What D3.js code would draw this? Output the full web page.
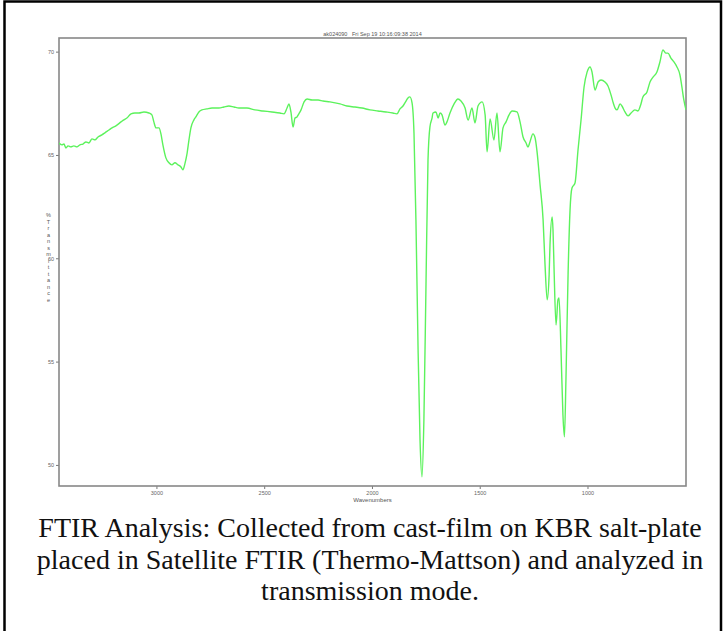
<!DOCTYPE html>
<html>
<head>
<meta charset="utf-8">
<script src="https://cdn.jsdelivr.net/npm/d3@7"></script>
<style>
  html, body { margin: 0; padding: 0; background: #fff; }
  svg { display: block; }
</style>
</head>
<body>
<div id="chart"></div>
<script>
/* FTIR spectrum — % Transmittance vs wavenumber */
const TITLE = 'ak024090   Fri Sep 19 10:16:09:38 2014';
const X_LABEL = 'Wavenumbers';
const Y_LABEL = '%Transmittance';
const CAPTION = [
  'FTIR Analysis: Collected from cast-film on KBR salt-plate',
  'placed in Satellite FTIR (Thermo-Mattson) and analyzed in',
  'transmission mode.'
];

const xTicks = [3000, 2500, 2000, 1500, 1000];
const yTicks = [50, 55, 60, 65, 70];

// wavenumber (cm-1)
const waveNumbers = [
  3452, 3438, 3429, 3420, 3410, 3397, 3383, 3369, 3355, 3341, 3327, 3313, 3299, 3285, 3271,
  3253, 3239, 3220, 3206, 3188, 3164, 3151, 3137, 3118, 3100, 3081, 3058, 3035, 3021, 3012,
  3002, 2988, 2979, 2970, 2956, 2942, 2928, 2914, 2900, 2886, 2877, 2868, 2859, 2849, 2840,
  2826, 2817, 2803, 2789, 2766, 2742, 2710, 2687, 2664, 2640, 2617, 2580, 2543, 2506, 2464,
  2427, 2408, 2394, 2385, 2376, 2366, 2357, 2348, 2339, 2329, 2315, 2301, 2278, 2250, 2227,
  2195, 2148, 2116, 2079, 2046, 2009, 1972, 1935, 1903, 1884, 1870, 1856, 1842, 1833, 1824,
  1814, 1805, 1796, 1786, 1777, 1768, 1759, 1749, 1740, 1731, 1721, 1717, 1703, 1693, 1684,
  1675, 1661, 1652, 1638, 1619, 1601, 1587, 1568, 1554, 1536, 1522, 1508, 1489, 1475, 1466,
  1452, 1434, 1420, 1406, 1392, 1378, 1364, 1350, 1327, 1313, 1299, 1285, 1276, 1267, 1253,
  1243, 1234, 1220, 1206, 1197, 1187, 1178, 1174, 1164, 1160, 1155, 1146, 1137, 1132, 1123,
  1114, 1107, 1100, 1090, 1081, 1072, 1058, 1044, 1030, 1016, 1002, 988, 979, 965, 951,
  937, 919, 905, 891, 882, 872, 863, 849, 840, 826, 812, 798, 780, 766, 752,
  743, 724, 710, 696, 678, 664, 650, 636, 627, 613, 599, 585, 571, 562, 553, 543
];

// % transmittance at each wavenumber
const transmittance = [
  65.58, 65.49, 65.53, 65.34, 65.44, 65.39, 65.44, 65.39, 65.49, 65.53, 65.63, 65.58, 65.78, 65.73, 65.87,
  65.97, 66.07, 66.21, 66.31, 66.41, 66.60, 66.70, 66.79, 66.99, 67.03, 67.03, 67.08, 67.03, 66.94, 66.60,
  66.31, 66.31, 66.02, 65.49, 64.86, 64.62, 64.52, 64.62, 64.52, 64.42, 64.28, 64.57, 65.00, 65.73, 66.31,
  66.70, 66.84, 67.08, 67.18, 67.23, 67.27, 67.27, 67.32, 67.37, 67.32, 67.27, 67.27, 67.18, 67.13, 67.08,
  67.03, 66.99, 67.27, 67.47, 67.08, 66.35, 66.79, 66.84, 66.99, 67.18, 67.57, 67.71, 67.66, 67.66, 67.61,
  67.57, 67.47, 67.37, 67.32, 67.27, 67.18, 67.13, 67.08, 67.03, 66.99, 67.23, 67.37, 67.61, 67.76, 67.81,
  67.52, 66.06, 61.85, 55.57, 51.21, 49.42, 52.18, 58.95, 64.76, 66.36, 66.79, 67.03, 67.08, 66.79, 67.03,
  66.94, 66.45, 66.60, 67.03, 67.47, 67.71, 67.61, 67.27, 66.69, 67.27, 66.55, 67.37, 67.57, 66.94, 65.15,
  66.74, 65.72, 67.03, 65.15, 66.31, 66.60, 66.94, 67.13, 67.08, 66.60, 65.87, 65.58, 65.38, 65.63, 66.02,
  65.82, 65.15, 63.55, 61.86, 59.68, 57.99, 59.20, 60.65, 62.00, 61.37, 59.43, 56.77, 57.99, 58.08, 55.57,
  52.43, 51.36, 54.12, 59.29, 62.33, 63.40, 63.64, 65.24, 66.69, 68.29, 69.01, 69.26, 69.01, 68.14, 68.53,
  68.63, 68.53, 68.34, 67.91, 67.57, 67.27, 67.18, 67.47, 67.37, 67.08, 66.89, 67.03, 67.18, 67.13, 67.47,
  67.81, 68.05, 68.53, 68.77, 69.01, 69.50, 70.08, 69.93, 69.93, 69.69, 69.50, 69.26, 68.87, 68.29, 67.66, 67.18
];

const W = 727, H = 631;
const frame = { left: 59, right: 686, top: 38, bottom: 486 };

const svg = d3.select('#chart').append('svg')
  .attr('width', W).attr('height', H)
  .style('font-family', 'Arial, "Liberation Sans", sans-serif');

// outer black border of the figure box
svg.append('rect')
  .attr('x', 4.5).attr('y', 1.5).attr('width', 716.5).attr('height', H + 20)
  .attr('fill', 'none').attr('stroke', '#000').attr('stroke-width', 2.5);

const x = d3.scaleLinear().domain([3452, 543]).range([frame.left, frame.right]);
const y = d3.scaleLinear().domain([48.98, 70.66]).range([frame.bottom, frame.top]);

const axisColor = '#777';

// x axis
const gx = svg.append('g')
  .attr('transform', `translate(0,${frame.bottom})`)
  .call(d3.axisBottom(x).tickValues(xTicks).tickSize(3).tickPadding(2).tickFormat(d3.format('d')));
gx.select('.domain').remove();
gx.selectAll('line').attr('stroke', axisColor);
gx.selectAll('text').attr('fill', '#666').attr('font-size', '5.5px');

// y axis
const gy = svg.append('g')
  .attr('transform', `translate(${frame.left},0)`)
  .call(d3.axisLeft(y).tickValues(yTicks).tickSize(3).tickPadding(2).tickFormat(d3.format('d')));
gy.select('.domain').remove();
gy.selectAll('line').attr('stroke', axisColor);
gy.selectAll('text').attr('fill', '#666').attr('font-size', '5.5px');

// plot frame
svg.append('rect')
  .attr('x', frame.left).attr('y', frame.top)
  .attr('width', frame.right - frame.left).attr('height', frame.bottom - frame.top)
  .attr('fill', 'none').attr('stroke', '#888').attr('stroke-width', 1.6);

// spectrum
const pts = waveNumbers.map((w, i) => [w, transmittance[i]]);
const line = d3.line().x(d => x(d[0])).y(d => y(d[1])).curve(d3.curveMonotoneX);

svg.append('defs').append('clipPath').attr('id', 'clip')
  .append('rect')
  .attr('x', frame.left).attr('y', frame.top)
  .attr('width', frame.right - frame.left).attr('height', frame.bottom - frame.top);

svg.append('path')
  .datum(pts)
  .attr('clip-path', 'url(#clip)')
  .attr('fill', 'none')
  .attr('stroke', '#5cf25c')
  .attr('stroke-width', 1.4)
  .attr('stroke-linejoin', 'round')
  .attr('d', line);

// title
svg.append('text')
  .attr('x', (frame.left + frame.right) / 2).attr('y', 35.5)
  .attr('text-anchor', 'middle')
  .attr('font-size', '5.5px').attr('fill', '#555')
  .attr('xml:space', 'preserve')
  .text(TITLE);

// x label
svg.append('text')
  .attr('x', (frame.left + frame.right) / 2).attr('y', 502)
  .attr('text-anchor', 'middle')
  .attr('font-size', '6px').attr('fill', '#555')
  .text(X_LABEL);

// y label, letters stacked
const yl = svg.append('text')
  .attr('text-anchor', 'middle')
  .attr('font-size', '5.5px').attr('fill', '#555');
Y_LABEL.split('').forEach((ch, i) => {
  yl.append('tspan')
    .attr('x', 48.5)
    .attr('y', 217 + i * 6.5)
    .text(ch);
});

// caption
const cap = svg.append('text')
  .attr('text-anchor', 'middle')
  .attr('font-family', '"Liberation Serif", "Times New Roman", serif')
  .attr('font-size', '28px').attr('fill', '#111');
CAPTION.forEach((t, i) => {
  cap.append('tspan')
    .attr('x', 370)
    .attr('y', 537 + i * 31.5)
    .text(t);
});
</script>
</body>
</html>
